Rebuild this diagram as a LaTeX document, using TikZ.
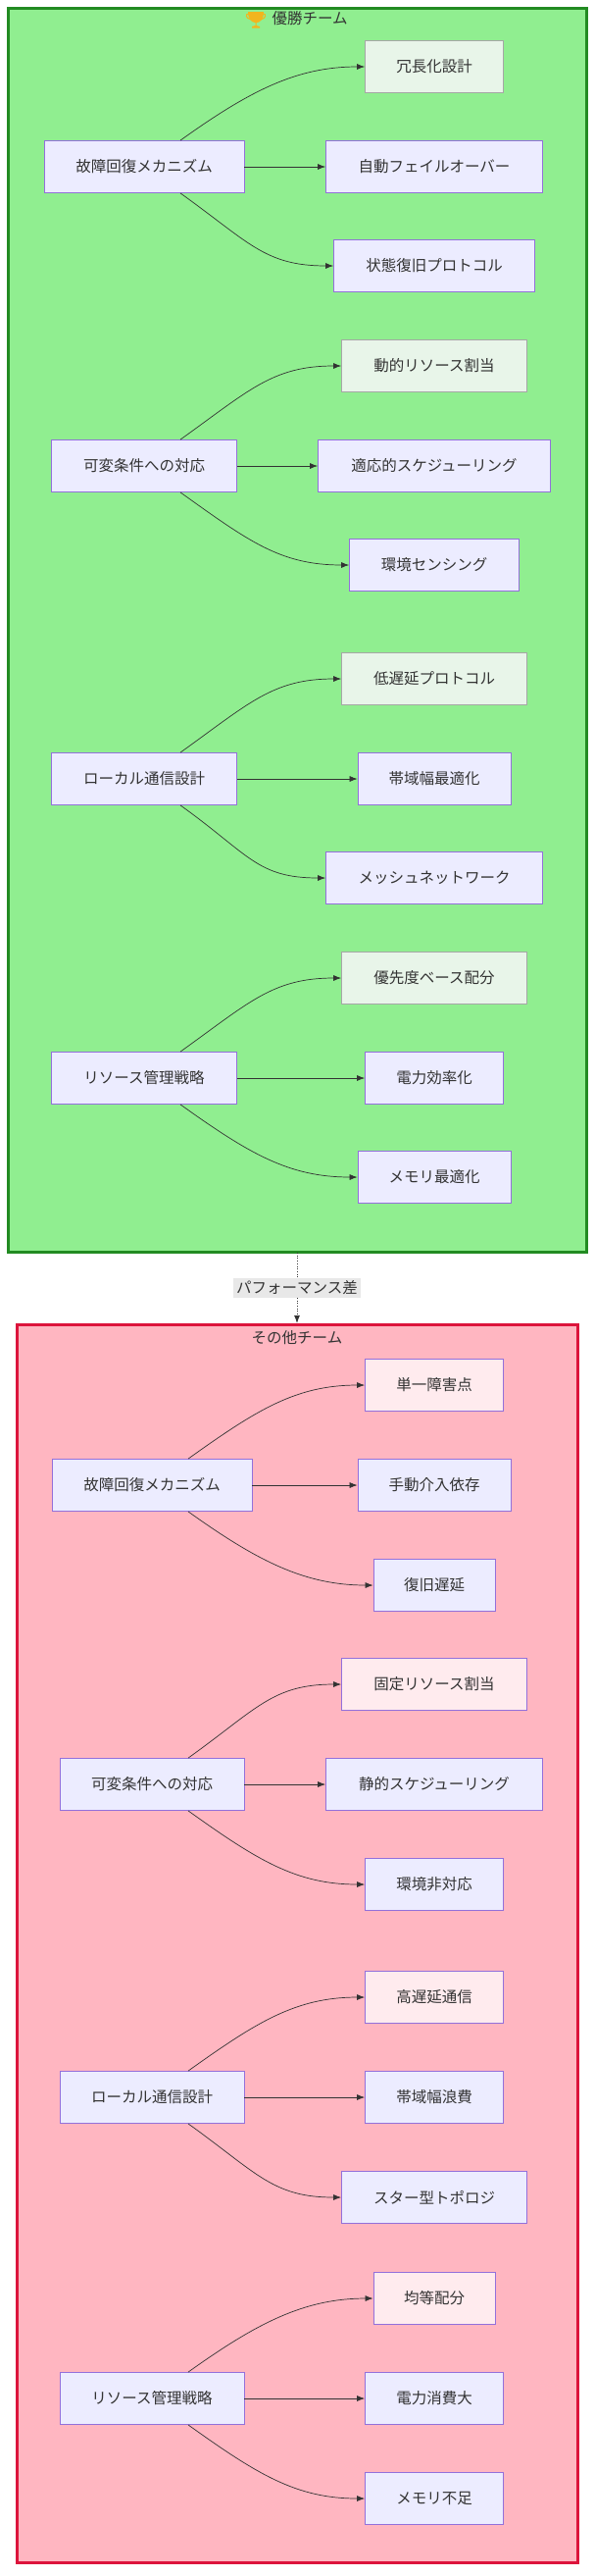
\documentclass[tikz,border=0pt]{standalone}
\usepackage{fontspec}
\setmainfont{Noto Sans CJK JP}
\usetikzlibrary{calc,arrows.meta}
\definecolor{winfill}{HTML}{90EE90}
\definecolor{winline}{HTML}{228B22}
\definecolor{losefill}{HTML}{FFB6C1}
\definecolor{loseline}{HTML}{DC143C}
\definecolor{boxfill}{HTML}{ECECFF}
\definecolor{boxline}{HTML}{9370DB}
\definecolor{goodfill}{HTML}{E8F5E9}
\definecolor{badfill}{HTML}{FFEBEE}
\definecolor{trophy}{HTML}{F2B51E}
\tikzset{
  box/.style={draw=boxline, fill=boxfill, line width=0.8pt, minimum height=53pt,
    inner sep=0pt, font=\fontsize{15.5}{18}\selectfont, text=black!80},
  good/.style={box, fill=goodfill, draw=black!35},
  bad/.style={box, fill=badfill},
  title/.style={font=\fontsize{15.5}{18}\selectfont, text=black!80},
  arr/.style={-{Latex[length=8pt,width=6pt]}, draw=black!80, line width=0.7pt},
  up/.style={to path={.. controls +(70,-50) and +(-70,0) .. (\tikztotarget)}},
  down/.style={to path={.. controls +(70,50) and +(-70,0) .. (\tikztotarget)}},
}
\begin{document}
\begin{tikzpicture}[x=1pt,y=-1pt]
  \useasboundingbox (0,0) rectangle (606,2626);
  % team frames
  \draw[winline, fill=winfill, line width=3pt] (8,8) rectangle (598,1276);
  \node[title, anchor=west] (wintitle) at (274,19) {優勝チーム};
  % trophy symbol
  \fill[trophy] (253,12) -- (269,12) .. controls (269,20) and (265,23) .. (262,23)
    -- (261.5,23) -- (261.5,26) -- (265,27) -- (265,28.5) -- (257,28.5) -- (257,27)
    -- (260.5,26) -- (260.5,23) .. controls (257,23) and (253,20) .. (253,12) -- cycle;
  \draw[trophy, line width=1pt] (253.5,14) .. controls (250,14) and (251,19) .. (255,19.5);
  \draw[trophy, line width=1pt] (268.5,14) .. controls (272,14) and (271,19) .. (267,19.5);
  \draw[loseline, fill=losefill, line width=3pt] (17,1350) rectangle (589,2612);
  \node[title] (losetitle) at (303,1364) {その他チーム};
  \coordinate (wbot) at (303,1277);
  \coordinate (ltop) at (303,1349);
  \draw[arr, dotted, line width=1pt] (wbot) -- node[title, fill=black!9, inner sep=3pt]
    {パフォーマンス差} (ltop);

  % winning team
  \node[box, minimum width=204pt] (wfail) at (147,170) {故障回復メカニズム};
  \node[good, minimum width=141pt] (wfail1) at (443,68) {冗長化設計};
  \node[box, minimum width=221pt] (wfail2) at (443,170) {自動フェイルオーバー};
  \node[box, minimum width=205pt] (wfail3) at (443,271) {状態復旧プロトコル};
  \node[box, minimum width=189pt] (wvar) at (147,475) {可変条件への対応};
  \node[good, minimum width=189pt] (wvar1) at (443,373) {動的リソース割当};
  \node[box, minimum width=237pt] (wvar2) at (443,475) {適応的スケジューリング};
  \node[box, minimum width=173pt] (wvar3) at (443,576) {環境センシング};
  \node[box, minimum width=189pt] (wcom) at (147,794) {ローカル通信設計};
  \node[good, minimum width=189pt] (wcom1) at (443,692) {低遅延プロトコル};
  \node[box, minimum width=156pt] (wcom2) at (443,794) {帯域幅最適化};
  \node[box, minimum width=221pt] (wcom3) at (443,895) {メッシュネットワーク};
  \node[box, minimum width=189pt] (wres) at (147,1099) {リソース管理戦略};
  \node[good, minimum width=189pt] (wres1) at (443,997) {優先度ベース配分};
  \node[box, minimum width=141pt] (wres2) at (443,1099) {電力効率化};
  \node[box, minimum width=156pt] (wres3) at (443,1200) {メモリ最適化};

  % other teams
  \node[box, minimum width=204pt] (lfail) at (155,1514) {故障回復メカニズム};
  \node[bad, minimum width=141pt] (lfail1) at (443,1412) {単一障害点};
  \node[box, minimum width=156pt] (lfail2) at (443,1514) {手動介入依存};
  \node[box, minimum width=124pt] (lfail3) at (443,1616) {復旧遅延};
  \node[box, minimum width=188pt] (lvar) at (155,1819) {可変条件への対応};
  \node[bad, minimum width=189pt] (lvar1) at (443,1717) {固定リソース割当};
  \node[box, minimum width=221pt] (lvar2) at (443,1819) {静的スケジューリング};
  \node[box, minimum width=141pt] (lvar3) at (443,1921) {環境非対応};
  \node[box, minimum width=188pt] (lcom) at (155,2138) {ローカル通信設計};
  \node[bad, minimum width=141pt] (lcom1) at (443,2036) {高遅延通信};
  \node[box, minimum width=141pt] (lcom2) at (443,2138) {帯域幅浪費};
  \node[box, minimum width=189pt] (lcom3) at (443,2240) {スター型トポロジ};
  \node[box, minimum width=188pt] (lres) at (155,2445) {リソース管理戦略};
  \node[bad, minimum width=124pt] (lres1) at (443,2343) {均等配分};
  \node[box, minimum width=141pt] (lres2) at (443,2445) {電力消費大};
  \node[box, minimum width=141pt] (lres3) at (443,2547) {メモリ不足};

  \foreach \g in {wfail,wvar,wcom,wres,lfail,lvar,lcom,lres} {
    \draw[arr] ($(\g.north)+(37,0)$) to[up] (\g1.west);
    \draw[arr] (\g.east) -- (\g2.west);
    \draw[arr] ($(\g.south)+(37,0)$) to[down] (\g3.west);
  }
\end{tikzpicture}
\end{document}
